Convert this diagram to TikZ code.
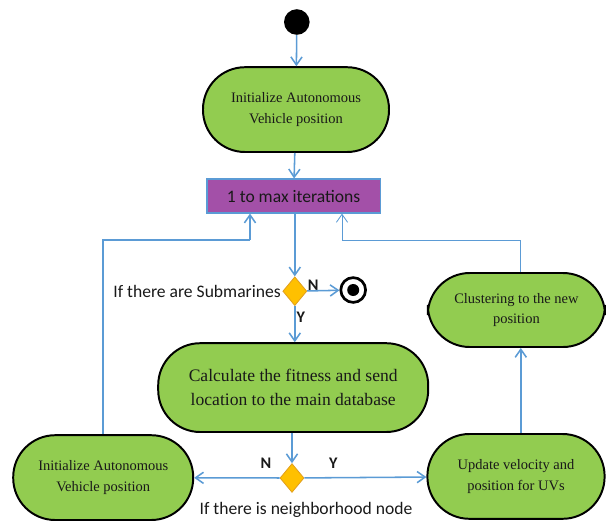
\documentclass[tikz,border=0pt]{standalone}
\usepackage{fontspec}
\setmainfont{Liberation Serif}
\newfontfamily\calibri{Carlito}
\usetikzlibrary{arrows.meta, positioning, shapes.geometric}

\definecolor{actgreen}{RGB}{146,204,80}
\definecolor{barpurple}{RGB}{163,80,168}
\definecolor{flowblue}{RGB}{91,155,213}
\definecolor{decgold}{RGB}{255,192,0}
\definecolor{decedge}{RGB}{226,160,30}

\begin{document}
\begin{tikzpicture}[
    action/.style={rectangle, draw=black, line width=1.4pt, fill=actgreen,
      rounded corners=1.05cm, minimum height=2.12cm, minimum width=4.5cm,
      align=center, text=black!90, font=\fontsize{10.3}{14.5}\selectfont},
    bar/.style={rectangle, draw=flowblue, line width=0.8pt, fill=barpurple,
      minimum width=4.33cm, minimum height=0.85cm,
      text=black!90, font=\calibri\fontsize{12.5}{15}\selectfont},
    decision/.style={diamond, draw=decedge, fill=decgold, line width=0.6pt,
      minimum width=0.6cm, minimum height=0.72cm, inner sep=0pt},
    startdot/.style={circle, fill=black, minimum size=0.64cm, inner sep=0pt},
    enddot/.style={circle, draw=black, line width=1.9pt, fill=white,
      minimum size=0.62cm, inner sep=0pt,
      path picture={\fill[black] (path picture bounding box.center) circle (0.15cm);}},
    note/.style={text=black!90, inner sep=1pt,
      font=\calibri\fontsize{12.5}{15}\selectfont},
    guard/.style={text=black!90, inner sep=1pt,
      font=\calibri\bfseries\fontsize{11.5}{14}\selectfont},
    flow/.style={draw=flowblue, line width=1.1pt,
      -{Straight Barb[length=2mm, width=2.8mm]}},
    line/.style={draw=flowblue, line width=1.1pt},
  ]
  \useasboundingbox (0,0) rectangle (15.15,-13.125);

  % main column
  \node[startdot] (start) at (7.42, -0.55) {};
  \node[action, minimum width=4.65cm] (init) at (7.4, -2.74)
    {Initialize Autonomous\\ Vehicle position};
  \node[bar] (iter) at (7.34, -4.9) {1 to max iterations};
  \node[decision] (sub) at (7.37, -7.28) {};
  \node[enddot] (stop) at (8.83, -7.25) {};
  \node[action, minimum width=6.75cm, minimum height=2.22cm,
    font=\fontsize{12.5}{17}\selectfont] (calc) at (7.33, -9.69)
    {Calculate the fitness and send\\ location to the main database};
  \node[decision] (nbr) at (7.3, -11.95) {};

  % side actions
  \node[action] (reinit) at (2.58, -11.94)
    {Initialize Autonomous\\ Vehicle position};
  \node[action, minimum width=4.43cm] (update) at (12.9, -11.91)
    {Update velocity and\\ position for UVs};
  \node[action, minimum width=4.43cm, minimum height=1.85cm] (cluster) at (12.91, -7.75)
    {Clustering to the new\\ position};

  % guards and labels
  \node[note, left=0pt of sub] (subtxt) {If there are Submarines};
  \node[guard] (subN) at (7.83, -7.12) {N};
  \node[guard] (subY) at (7.52, -7.93) {Y};
  \node[guard] (nbrN) at (6.65, -11.58) {N};
  \node[guard] (nbrY) at (8.33, -11.58) {Y};
  \node[note] (nbrtxt) at (7.65, -12.75) {If there is neighborhood node};

  \coordinate (loopL) at (6.25, -6);
  \coordinate (loopR) at (8.55, -6);

  % connectors
  \draw[flow] (start) -- (init);
  \draw[flow] (init) -- (iter);
  \draw[flow] (iter.south -| sub) -- (sub);
  \draw[flow] (sub) -- (stop);
  \draw[flow] (sub) -- (calc.north -| sub);
  \draw[flow] (calc.south -| nbr) -- (nbr);
  \draw[flow] (nbr) -- (reinit);
  \draw[flow] (nbr) -- (update);
  \draw[flow] (update.north -| 13.02,0) -- (cluster.south -| 13.02,0);
  \draw[line] (reinit.north) |- (loopL);
  \draw[flow] (loopL) -- (loopL |- iter.south);
  \draw[line, line width=0.6pt] (cluster.north -| 13.02,0) |- (loopR);
  \draw[flow, line width=0.6pt] (loopR) -- (loopR |- iter.south);
\end{tikzpicture}
\end{document}
